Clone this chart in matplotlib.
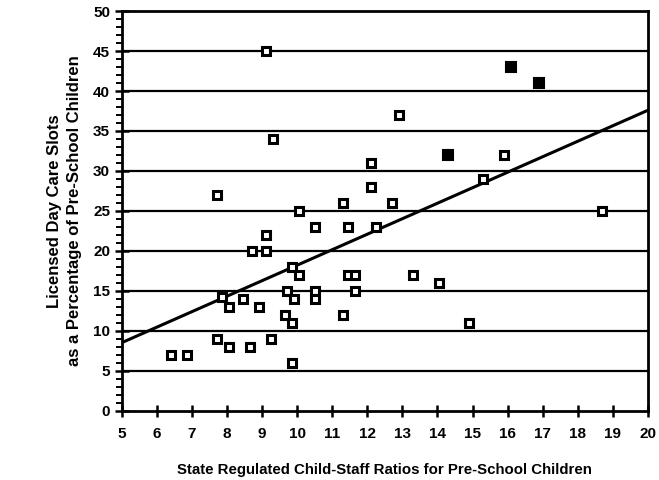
import numpy as np
import matplotlib.pyplot as plt
from matplotlib.ticker import MultipleLocator

plt.rcParams['font.family'] = ['Liberation Sans', 'DejaVu Sans']

# child-staff ratio (x) and licensed slots % (y), one point per state
ratio = np.array([9.1, 9.3, 16.1, 16.9, 12.9, 14.3, 15.9, 12.1, 15.3, 12.1,
                  7.7, 11.3, 12.7, 18.7, 10.05, 10.5, 11.45, 12.25, 9.1, 8.7,
                  9.1, 9.85, 10.05, 11.45, 11.65, 11.65, 9.7, 9.9, 10.5, 10.5,
                  7.85, 8.05, 8.45, 8.9, 9.65, 9.85, 11.3, 7.7, 8.05, 8.65,
                  9.25, 6.4, 6.85, 9.85, 13.3, 14.05, 14.9])
slots = np.array([45, 34, 43, 41, 37, 32, 32, 31, 29, 28,
                  27, 26, 26, 25, 25, 23, 23, 23, 22, 20,
                  20, 18, 17, 17, 17, 15, 15, 14, 15, 14,
                  14.3, 13, 14, 13, 12, 11, 12, 9, 8, 8,
                  9, 7, 7, 6, 17, 16, 11])
filled = np.array([False, False, True, True, False, True, False, False, False, False,
                   False, False, False, False, False, False, False, False, False, False,
                   False, False, False, False, False, False, False, False, False, False,
                   False, False, False, False, False, False, False, False, False, False,
                   False, False, False, False, False, False, False])

fig = plt.figure(figsize=(6.59, 4.8), dpi=100)
ax = fig.add_axes([0.185, 0.144, 0.798, 0.833])

for yv in range(5, 50, 5):
    ax.axhline(yv, color='black', lw=1.6, zorder=1)

# least-squares trend line
slope, intercept = np.polyfit(ratio, slots, 1)
xs = np.array([5, 20])
ax.plot(xs, intercept + slope * xs, color='black', lw=2.2, zorder=2)

ax.plot(ratio[~filled], slots[~filled], 's', ms=5.5, mfc='white', mec='black', mew=2.2, zorder=3)
ax.plot(ratio[filled], slots[filled], 's', ms=6.5, mfc='black', mec='black', mew=1.5, zorder=3)

ax.set_xlim(5, 20)
ax.set_ylim(0, 50)
ax.xaxis.set_major_locator(MultipleLocator(1))
ax.yaxis.set_major_locator(MultipleLocator(5))
ax.yaxis.set_minor_locator(MultipleLocator(1))
ax.tick_params(axis='x', direction='inout', length=9, width=1.8, labelsize=11, pad=7)
ax.tick_params(axis='y', which='major', direction='inout', length=10, width=1.8, labelsize=11)
ax.tick_params(axis='y', which='minor', direction='out', length=4, width=1.4)
for lab in ax.get_xticklabels() + ax.get_yticklabels():
    lab.set_fontweight('bold')
for sp in ax.spines.values():
    sp.set_linewidth(2)

ax.set_xlabel('State Regulated Child-Staff Ratios for Pre-School Children',
              fontsize=10.8, fontweight='bold', labelpad=16)
ax.set_ylabel('Licensed Day Care Slots\nas a Percentage of Pre-School Children',
              fontsize=12, fontweight='bold', linespacing=1.45, labelpad=8)

fig.savefig('out.png', dpi=100)
